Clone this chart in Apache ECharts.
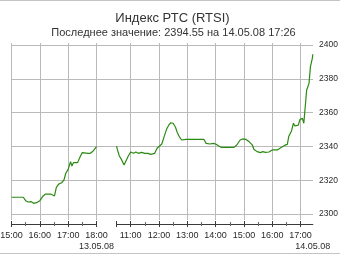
<!DOCTYPE html>
<html>
<head>
<meta charset="utf-8">
<script src="https://cdn.jsdelivr.net/npm/echarts@6/dist/echarts.min.js"></script>
<style>
html,body{margin:0;padding:0;background:#fff;}
#frame{position:absolute;left:0;top:0;width:340px;height:254px;box-sizing:border-box;border-top:1px solid #c4c4c4;border-bottom:1px solid #c4c4c4;}
#c{position:absolute;left:0;top:0;width:340px;height:255px;}
</style>
</head>
<body>
<div id="frame"></div>
<div id="c"></div>
<script>
// ---- data ----
const titleText = 'Индекс РТС (RTSI)';
const subtitleText = 'Последнее значение: 2394.55 на 14.05.08 17:26';

const day1Date = '13.05.08';
const day2Date = '14.05.08';
const day1Range = ['15:00', '18:00'];
const day2Range = ['10:30', '17:26'];

const day1HourTicks = ['15:00', '16:00', '17:00', '18:00'];
const day1HalfTicks = ['15:30', '16:30', '17:30'];
const day2HourTicks = ['11:00', '12:00', '13:00', '14:00', '15:00', '16:00', '17:00'];
const day2HalfTicks = ['11:30', '12:30', '13:30', '14:30', '15:30', '16:30'];

const yTicks = [2300, 2320, 2340, 2360, 2380, 2400];

const day1Times = ['15:00','15:25','15:30','15:35','15:42','15:47','15:53','16:00','16:07','16:12','16:23','16:25','16:31','16:35','16:40','16:46','16:51','16:55','17:00','17:05','17:08','17:11','17:20','17:26','17:30','17:42','17:47','17:53','18:00'];
const day1Values = [2309.9,2309.9,2307.9,2307.1,2307.3,2306.3,2306.7,2307.9,2310.7,2311.8,2311.8,2312.2,2310.7,2315.8,2317.7,2318.5,2320.1,2324.1,2326.4,2331.0,2328.4,2330.4,2330.4,2334.3,2336.3,2335.9,2335.9,2337.3,2339.8];

const day2Times = ['10:30','10:32','10:36','10:41','10:46','10:49','10:55','11:00','11:06','11:11','11:16','11:23','11:30','11:37','11:42','11:51','11:56','12:00','12:06','12:11','12:16','12:21','12:25','12:30','12:35','12:39','12:43','12:48','12:52','12:57','13:09','13:23','13:35','13:40','13:48','13:55','14:00','14:07','14:12','14:25','14:39','14:45','14:52','14:57','15:04','15:11','15:18','15:21','15:28','15:35','15:40','15:46','15:53','16:00','16:11','16:18','16:26','16:32','16:35','16:41','16:45','16:48','16:55','16:59','17:04','17:07','17:09','17:13','17:18','17:21','17:25','17:26'];
const day2Values = [2340.2,2337.9,2334.3,2332.0,2329.0,2329.6,2334.3,2336.7,2335.9,2336.7,2335.9,2336.5,2335.9,2335.9,2335.3,2335.9,2338.9,2339.4,2341.4,2345.8,2350.1,2352.7,2354.0,2353.7,2351.3,2348.1,2345.8,2343.8,2344.6,2344.2,2344.2,2344.2,2344.2,2341.8,2341.4,2341.8,2341.4,2340.2,2339.4,2339.4,2339.4,2340.8,2343.8,2344.4,2344.2,2342.8,2340.8,2338.3,2336.9,2336.3,2336.9,2336.5,2336.7,2337.9,2337.9,2339.2,2340.6,2341.2,2345.8,2349.3,2353.7,2352.1,2352.5,2356.0,2356.6,2353.7,2360.5,2373.4,2377.3,2387.2,2392.1,2394.55];

// ---- helpers ----
const hm = s => { const p = s.split(':').map(Number); return p[0] * 60 + p[1]; };
const fmt = v => { const h = Math.floor(v / 60), m = Math.round(v % 60); return h + ':' + (m < 10 ? '0' + m : m); };

const FONT = 'Liberation Sans, Arial, sans-serif';
const GRID = '#bababa';
const AXIS = '#3a3a3a';
const TXT = '#2a2a2a';
const LINE = '#2b8a12';

// y range of the plotting grids (slightly taller than the labelled 2300..2400 band)
const yLo = 2296.45, yHi = 2401.18;

const d1 = day1Times.map((t, i) => [hm(t), day1Values[i]]);
const d2 = day2Times.map((t, i) => [hm(t), day2Values[i]]);

function dayAxes(gridIndex, range, hours, halves, dateText, startTick) {
  const min = hm(range[0]), max = hm(range[1]);
  const hourVals = hours.map(hm);
  const majorVals = startTick ? [min].concat(hourVals) : hourVals;
  const base = { type: 'value', gridIndex, min, max, position: 'bottom', splitArea: { show: false } };
  return [
    Object.assign({}, base, { // main: axis line + hour labels + hourly vertical grid lines
      offset: 4,
      axisLine: { show: true, lineStyle: { color: AXIS, width: 1 } },
      axisTick: { show: false, customValues: hourVals },
      axisLabel: {
        customValues: hourVals, margin: 7, fontFamily: FONT, fontSize: 9, color: TXT,
        showMinLabel: true, showMaxLabel: true, hideOverlap: false,
        formatter: v => fmt(v)
      },
      splitLine: { show: true, lineStyle: { color: GRID, width: 1 } }
    }),
    Object.assign({}, base, { // date label under the end of the day
      offset: 4,
      axisLine: { show: false },
      axisTick: { show: false, customValues: [max] },
      axisLabel: {
        customValues: [max], margin: 18, fontFamily: FONT, fontSize: 9, color: TXT,
        showMinLabel: true, showMaxLabel: true, formatter: () => dateText
      },
      splitLine: { show: false }
    }),
    Object.assign({}, base, { // major ticks crossing the axis line
      offset: 1,
      axisLine: { show: false },
      axisTick: { show: true, customValues: majorVals, length: 6, lineStyle: { color: AXIS, width: 1 } },
      axisLabel: { show: false }, splitLine: { show: false }
    }),
    Object.assign({}, base, { // minor (half hour) ticks
      offset: 2,
      axisLine: { show: false },
      axisTick: { show: true, customValues: halves.map(hm), length: 4, lineStyle: { color: '#666', width: 1 } },
      axisLabel: { show: false }, splitLine: { show: false }
    })
  ];
}

// grid 0: labelled value band (horizontal lines, right labels); grid 1: day 1; grid 2: day 2
const axBand = [{ type: 'value', gridIndex: 0, show: false, min: 0, max: 1 }];
const ax1 = dayAxes(1, day1Range, day1HourTicks, day1HalfTicks, day1Date, false);
const ax2 = dayAxes(2, day2Range, day2HourTicks, day2HalfTicks, day2Date, true);
const xAxes = axBand.concat(ax1).concat(ax2);

const chart = echarts.init(document.getElementById('c'), null, { renderer: 'canvas' });
chart.setOption({
  animation: false,
  backgroundColor: 'transparent',
  graphic: [
    { type: 'text', x: 172.5, y: 18, style: { text: titleText, fill: '#333', font: '13px ' + FONT, align: 'center', verticalAlign: 'middle', textAlign: 'center', textVerticalAlign: 'middle' } },
    { type: 'text', x: 173.5, y: 33, style: { text: subtitleText, fill: '#333', font: '11px ' + FONT, align: 'center', verticalAlign: 'middle', textAlign: 'center', textVerticalAlign: 'middle' } }
  ],
  grid: [
    { show: false, left: 11, top: 45, width: 302, height: 169, outerBoundsMode: 'none' },
    { show: false, left: 11.5, top: 43, width: 85, height: 177, outerBoundsMode: 'none' },
    { show: false, left: 116.5, top: 43, width: 196.3, height: 177, outerBoundsMode: 'none' }
  ],
  xAxis: xAxes,
  yAxis: [
    {
      type: 'value', gridIndex: 0, position: 'right', min: yTicks[0], max: yTicks[yTicks.length - 1],
      interval: yTicks[1] - yTicks[0],
      axisLine: { show: false },
      axisTick: { show: true, length: 3, lineStyle: { color: GRID } },
      axisLabel: { margin: 6, fontFamily: FONT, fontSize: 8.5, color: TXT, formatter: v => String(v) },
      splitLine: { show: true, lineStyle: { color: GRID, width: 1 } },
      splitArea: { show: false }
    },
    { type: 'value', gridIndex: 1, show: false, min: yLo, max: yHi, splitLine: { show: false }, splitArea: { show: false } },
    { type: 'value', gridIndex: 2, show: false, min: yLo, max: yHi, splitLine: { show: false }, splitArea: { show: false } }
  ],
  series: [
    { type: 'line', xAxisIndex: axBand.length, yAxisIndex: 1, data: d1, showSymbol: false, symbol: 'none', lineStyle: { color: LINE, width: 1.2 }, z: 5 },
    { type: 'line', xAxisIndex: axBand.length + ax1.length, yAxisIndex: 2, data: d2, showSymbol: false, symbol: 'none', lineStyle: { color: LINE, width: 1.2 }, z: 5 }
  ]
});
</script>
</body>
</html>
